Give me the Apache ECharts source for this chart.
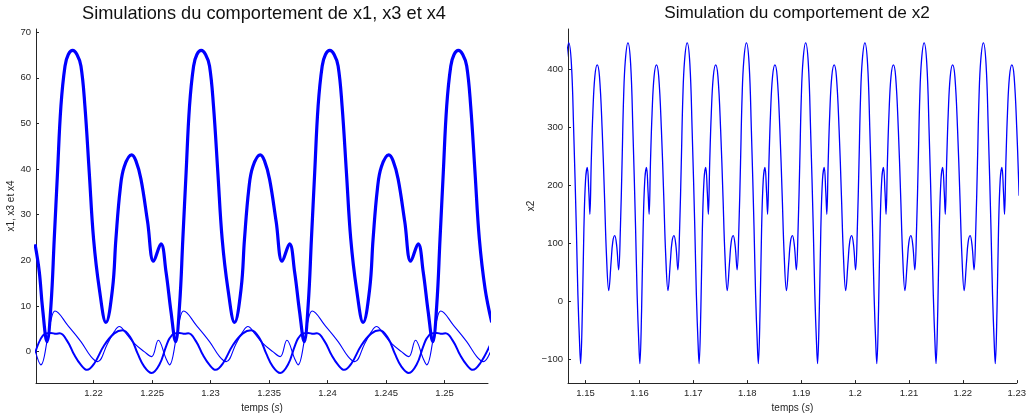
<!DOCTYPE html>
<html><head><meta charset="utf-8">
<script src="https://cdn.jsdelivr.net/npm/echarts@6/dist/echarts.min.js"></script>
<style>html,body{margin:0;padding:0;background:#fff}#c{width:1029px;height:418px}</style>
</head><body><div id="c"></div>
<script>
// tick labels
const leftXTicks = [1.22, 1.225, 1.23, 1.235, 1.24, 1.245, 1.25];
const leftYTicks = [0, 10, 20, 30, 40, 50, 60, 70];
const rightXTicks = [1.15, 1.16, 1.17, 1.18, 1.19, 1.2, 1.21, 1.22, 1.23];
const rightYTicks = [-100, 0, 100, 200, 300, 400];

// x1 (thick curve)
const tX1 = [1.21500, 1.21536, 1.21564,
  1.21602, 1.21636, 1.21664, 1.21692, 1.21721, 1.21756, 1.21784, 1.21821, 1.21858, 1.21892, 1.21926, 1.21963, 1.22000, 1.22049, 1.22106, 1.22162, 1.22191, 1.22228, 1.22262, 1.22325, 1.22362, 1.22405, 1.22462, 1.22513, 1.22576, 1.22619, 1.22662,
  1.22701, 1.22735, 1.22763, 1.22791, 1.22820, 1.22855, 1.22883, 1.22920, 1.22957, 1.22991, 1.23025, 1.23062, 1.23099, 1.23148, 1.23205, 1.23261, 1.23290, 1.23327, 1.23361, 1.23424, 1.23461, 1.23504, 1.23561, 1.23612, 1.23675, 1.23718, 1.23761,
  1.23800, 1.23834, 1.23862, 1.23890, 1.23919, 1.23954, 1.23982, 1.24019, 1.24056, 1.24090, 1.24124, 1.24161, 1.24198, 1.24247, 1.24304, 1.24360, 1.24389, 1.24426, 1.24460, 1.24523, 1.24560, 1.24603, 1.24660, 1.24711, 1.24774, 1.24817, 1.24860,
  1.24899, 1.24933, 1.24961, 1.24989, 1.25018, 1.25053, 1.25081, 1.25118, 1.25155, 1.25189, 1.25223, 1.25260, 1.25297, 1.25346, 1.25403];
const x1 = [23.5, 17.5, 9.5,
  2.2, 10.2, 24.7, 39.3, 53.8, 62.6, 65.1, 66.0, 65.1, 62.6, 53.8, 39.3, 24.7, 13.8, 6.4, 13.8, 24.7, 35.7, 40.5, 43.1, 41.8, 37.8, 28.4, 19.8, 23.6, 17.5, 8.7,
  2.2, 10.2, 24.7, 39.3, 53.8, 62.6, 65.1, 66.0, 65.1, 62.6, 53.8, 39.3, 24.7, 13.8, 6.4, 13.8, 24.7, 35.7, 40.5, 43.1, 41.8, 37.8, 28.4, 19.8, 23.6, 17.5, 8.7,
  2.2, 10.2, 24.7, 39.3, 53.8, 62.6, 65.1, 66.0, 65.1, 62.6, 53.8, 39.3, 24.7, 13.8, 6.4, 13.8, 24.7, 35.7, 40.5, 43.1, 41.8, 37.8, 28.4, 19.8, 23.6, 17.5, 8.7,
  2.2, 10.2, 24.7, 39.3, 53.8, 62.6, 65.1, 66.0, 65.1, 62.6, 53.8, 39.3, 24.7, 13.8, 6.4];

// x3 (thin curve)
const tX3 = [1.21500,
  1.21550, 1.21607, 1.21636, 1.21670, 1.21778, 1.21892, 1.21978, 1.22034, 1.22120, 1.22177, 1.22220, 1.22277, 1.22348, 1.22433, 1.22496, 1.22553, 1.22619,
  1.22649, 1.22706, 1.22735, 1.22769, 1.22877, 1.22991, 1.23077, 1.23133, 1.23219, 1.23276, 1.23319, 1.23376, 1.23447, 1.23532, 1.23595, 1.23652, 1.23718,
  1.23748, 1.23805, 1.23834, 1.23868, 1.23976, 1.24090, 1.24176, 1.24232, 1.24318, 1.24375, 1.24418, 1.24475, 1.24546, 1.24631, 1.24694, 1.24751, 1.24817,
  1.24847, 1.24904, 1.24933, 1.24967, 1.25075, 1.25189, 1.25275, 1.25331, 1.25417];
const x3 = [0.3,
  -2.9, 2.9, 6.9, 8.9, 5.8, 2.2, -1.1, -2.2, 1.8, 4.4, 5.5, 4.0, 1.8, 0.0, -1.1, 2.5, -1.5,
  -2.9, 2.9, 6.9, 8.9, 5.8, 2.2, -1.1, -2.2, 1.8, 4.4, 5.5, 4.0, 1.8, 0.0, -1.1, 2.5, -1.5,
  -2.9, 2.9, 6.9, 8.9, 5.8, 2.2, -1.1, -2.2, 1.8, 4.4, 5.5, 4.0, 1.8, 0.0, -1.1, 2.5, -1.5,
  -2.9, 2.9, 6.9, 8.9, 5.8, 2.2, -1.1, -2.2, 1.8];

// x4 (medium curve)
const tX4 = [1.21500,
  1.21550, 1.21593, 1.21636, 1.21679, 1.21711, 1.21778, 1.21835, 1.21892, 1.21944, 1.22006, 1.22091, 1.22177, 1.22248, 1.22320, 1.22376, 1.22433, 1.22496, 1.22562, 1.22619,
  1.22649, 1.22692, 1.22735, 1.22778, 1.22810, 1.22877, 1.22934, 1.22991, 1.23043, 1.23105, 1.23190, 1.23276, 1.23347, 1.23419, 1.23475, 1.23532, 1.23595, 1.23661, 1.23718,
  1.23748, 1.23791, 1.23834, 1.23877, 1.23909, 1.23976, 1.24033, 1.24090, 1.24142, 1.24204, 1.24289, 1.24375, 1.24446, 1.24518, 1.24574, 1.24631, 1.24694, 1.24760, 1.24817,
  1.24847, 1.24890, 1.24933, 1.24976, 1.25008, 1.25075, 1.25132, 1.25189, 1.25241, 1.25303, 1.25388];
const x4 = [-0.3,
  2.9, 4.0, 4.1, 3.9, 4.0, 2.2, -0.7, -2.9, -4.0, -2.6, 1.4, 4.0, 4.7, 2.9, -0.4, -3.3, -4.7, -2.9, 1.1,
  2.9, 4.0, 4.1, 3.9, 4.0, 2.2, -0.7, -2.9, -4.0, -2.6, 1.4, 4.0, 4.7, 2.9, -0.4, -3.3, -4.7, -2.9, 1.1,
  2.9, 4.0, 4.1, 3.9, 4.0, 2.2, -0.7, -2.9, -4.0, -2.6, 1.4, 4.0, 4.7, 2.9, -0.4, -3.3, -4.7, -2.9, 1.1,
  2.9, 4.0, 4.1, 3.9, 4.0, 2.2, -0.7, -2.9, -4.0, -2.6, 1.4];

// x2 (right chart)
const tX2 = [1.14639,
  1.14687, 1.14737, 1.14779, 1.14829, 1.14858, 1.14890, 1.14908, 1.14940, 1.14969, 1.15000, 1.15032, 1.15061, 1.15080, 1.15105, 1.15135, 1.15172, 1.15216, 1.15258, 1.15308, 1.15351, 1.15388, 1.15430, 1.15474, 1.15504, 1.15541, 1.15577, 1.15614, 1.15646, 1.15677, 1.15706, 1.15738,
  1.15786, 1.15836, 1.15878, 1.15928, 1.15957, 1.15989, 1.16007, 1.16039, 1.16068, 1.16099, 1.16131, 1.16160, 1.16179, 1.16204, 1.16234, 1.16271, 1.16315, 1.16357, 1.16407, 1.16450, 1.16487, 1.16529, 1.16573, 1.16603, 1.16640, 1.16676, 1.16713, 1.16745, 1.16776, 1.16805, 1.16837,
  1.16885, 1.16935, 1.16977, 1.17027, 1.17056, 1.17088, 1.17106, 1.17138, 1.17167, 1.17198, 1.17230, 1.17259, 1.17278, 1.17303, 1.17333, 1.17370, 1.17414, 1.17456, 1.17506, 1.17549, 1.17586, 1.17628, 1.17672, 1.17702, 1.17739, 1.17775, 1.17812, 1.17844, 1.17875, 1.17904, 1.17936,
  1.17984, 1.18034, 1.18076, 1.18126, 1.18155, 1.18187, 1.18205, 1.18237, 1.18266, 1.18297, 1.18329, 1.18358, 1.18377, 1.18402, 1.18432, 1.18469, 1.18513, 1.18555, 1.18605, 1.18648, 1.18685, 1.18727, 1.18771, 1.18801, 1.18838, 1.18874, 1.18911, 1.18943, 1.18974, 1.19003, 1.19035,
  1.19083, 1.19133, 1.19175, 1.19225, 1.19254, 1.19286, 1.19304, 1.19336, 1.19365, 1.19396, 1.19428, 1.19457, 1.19476, 1.19501, 1.19531, 1.19568, 1.19612, 1.19654, 1.19704, 1.19747, 1.19784, 1.19826, 1.19870, 1.19900, 1.19937, 1.19973, 1.20010, 1.20042, 1.20073, 1.20102, 1.20134,
  1.20182, 1.20232, 1.20274, 1.20324, 1.20353, 1.20385, 1.20403, 1.20435, 1.20464, 1.20495, 1.20527, 1.20556, 1.20575, 1.20600, 1.20630, 1.20667, 1.20711, 1.20753, 1.20803, 1.20846, 1.20883, 1.20925, 1.20969, 1.20999, 1.21036, 1.21072, 1.21109, 1.21141, 1.21172, 1.21201, 1.21233,
  1.21281, 1.21331, 1.21373, 1.21423, 1.21452, 1.21484, 1.21502, 1.21534, 1.21563, 1.21594, 1.21626, 1.21655, 1.21674, 1.21699, 1.21729, 1.21766, 1.21810, 1.21852, 1.21902, 1.21945, 1.21982, 1.22024, 1.22068, 1.22098, 1.22135, 1.22171, 1.22208, 1.22240, 1.22271, 1.22300, 1.22332,
  1.22380, 1.22430, 1.22472, 1.22522, 1.22551, 1.22583, 1.22601, 1.22633, 1.22662, 1.22693, 1.22725, 1.22754, 1.22773, 1.22798, 1.22828, 1.22865, 1.22909, 1.22951, 1.23001, 1.23044];
const x2 = [416,
  446, 410, 296, 125, 10, -75, -108, -18, 125, 210, 231, 188, 150, 239, 325, 388, 408, 388, 296, 182, 79, 18, 68, 102, 113, 96, 54, 125, 239, 353, 416,
  446, 410, 296, 125, 10, -75, -108, -18, 125, 210, 231, 188, 150, 239, 325, 388, 408, 388, 296, 182, 79, 18, 68, 102, 113, 96, 54, 125, 239, 353, 416,
  446, 410, 296, 125, 10, -75, -108, -18, 125, 210, 231, 188, 150, 239, 325, 388, 408, 388, 296, 182, 79, 18, 68, 102, 113, 96, 54, 125, 239, 353, 416,
  446, 410, 296, 125, 10, -75, -108, -18, 125, 210, 231, 188, 150, 239, 325, 388, 408, 388, 296, 182, 79, 18, 68, 102, 113, 96, 54, 125, 239, 353, 416,
  446, 410, 296, 125, 10, -75, -108, -18, 125, 210, 231, 188, 150, 239, 325, 388, 408, 388, 296, 182, 79, 18, 68, 102, 113, 96, 54, 125, 239, 353, 416,
  446, 410, 296, 125, 10, -75, -108, -18, 125, 210, 231, 188, 150, 239, 325, 388, 408, 388, 296, 182, 79, 18, 68, 102, 113, 96, 54, 125, 239, 353, 416,
  446, 410, 296, 125, 10, -75, -108, -18, 125, 210, 231, 188, 150, 239, 325, 388, 408, 388, 296, 182, 79, 18, 68, 102, 113, 96, 54, 125, 239, 353, 416,
  446, 410, 296, 125, 10, -75, -108, -18, 125, 210, 231, 188, 150, 239, 325, 388, 408, 388, 296, 182];

function zip(t, v) { return t.map((ti, i) => [ti, v[i]]); }

const FONT = '"Liberation Sans", Arial, Helvetica, sans-serif';
const AX = '#262626';
function fmt(v) { return String(v).replace('-', '\u2212'); }

function xAxis(gridIndex, min, max, ticks) {
  return {
    type: 'value', gridIndex, min, max,
    axisLine: { show: true, onZero: false, lineStyle: { color: AX, width: 1 } },
    axisTick: { show: true, inside: true, length: 3, customValues: ticks, lineStyle: { color: AX } },
    axisLabel: { customValues: ticks, fontSize: 9.5, color: AX, margin: 5, fontFamily: FONT, formatter: fmt },
    splitLine: { show: false },
    name: 'temps ({it|s})', nameLocation: 'middle', nameGap: 15,
    nameTextStyle: { fontSize: 10, color: AX, fontFamily: FONT, rich: { it: { fontStyle: 'italic', fontSize: 10, color: AX, fontFamily: FONT } } }
  };
}
function yAxis(gridIndex, min, max, ticks, name, gap) {
  return {
    type: 'value', gridIndex, min, max,
    axisLine: { show: true, onZero: false, lineStyle: { color: AX, width: 1 } },
    axisTick: { show: true, inside: true, length: 3, customValues: ticks, lineStyle: { color: AX } },
    axisLabel: { customValues: ticks, fontSize: 9.5, color: AX, margin: 5, fontFamily: FONT, formatter: fmt },
    splitLine: { show: false },
    name, nameLocation: 'middle', nameGap: gap,
    nameTextStyle: { fontSize: 10, color: AX, fontFamily: FONT }
  };
}
function line(xi, data, width) {
  return {
    type: 'line', xAxisIndex: xi, yAxisIndex: xi, data, showSymbol: false, symbol: 'none',
    smooth: 0.4, lineStyle: { color: '#0000ff', width }, silent: true
  };
}

const chart = echarts.init(document.getElementById('c'), null, { renderer: 'canvas' });
chart.setOption({
  animation: false,
  backgroundColor: '#fff',
  title: [
    { text: 'Simulations du comportement de x1, x3 et x4', left: 259, top: 0, textAlign: 'center',
      textStyle: { fontSize: 18.2, fontWeight: 'normal', color: '#111', fontFamily: FONT } },
    { text: 'Simulation du comportement de x2', left: 792, top: 0, textAlign: 'center',
      textStyle: { fontSize: 17.2, fontWeight: 'normal', color: '#111', fontFamily: FONT } }
  ],
  grid: [
    { left: 36, top: 29, width: 452, height: 356 },
    { left: 568, top: 29, width: 452, height: 356 }
  ],
  xAxis: [ xAxis(0, 1.21508, 1.25371, leftXTicks), xAxis(1, 1.14674, 1.23, rightXTicks) ],
  yAxis: [ yAxis(0, -6.9, 70.7, leftYTicks, 'x1, x3 et x4', 19), yAxis(1, -141.6, 470, rightYTicks, 'x2', 32) ],
  series: [
    line(0, zip(tX3, x3), 1.1),
    line(0, zip(tX4, x4), 2),
    line(0, zip(tX1, x1), 3.2),
    line(1, zip(tX2, x2), 1.3)
  ]
});
</script>
</body></html>
